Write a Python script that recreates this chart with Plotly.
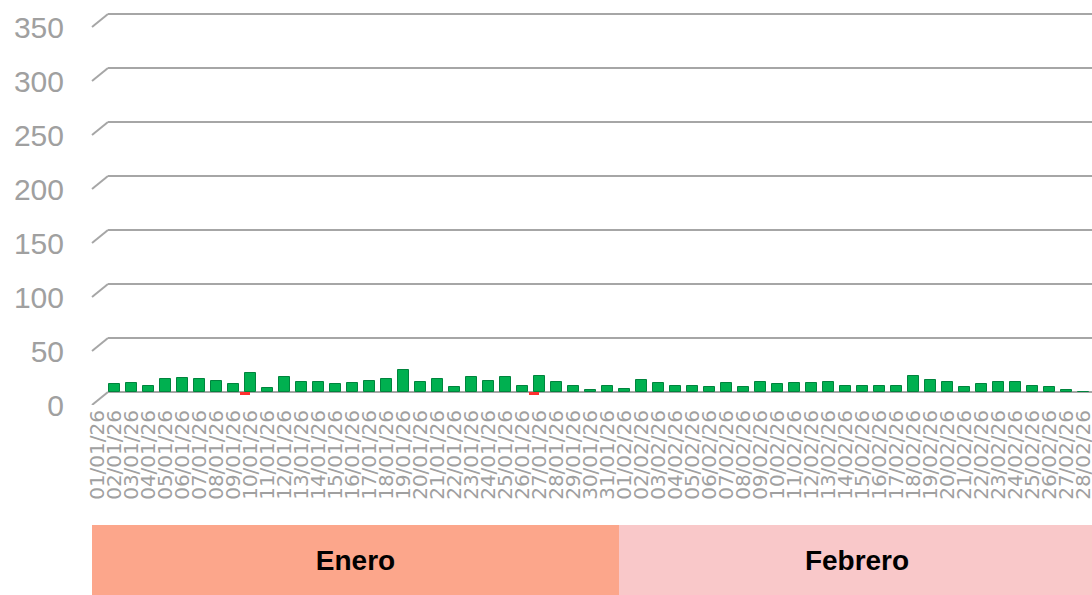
import plotly.graph_objects as go

# ---------------- data ----------------
months = ["Enero", "Febrero"]
month_numbers = [1, 2]
month_days = [31, 28]
month_colors = ["#FCA68B", "#F9C8C9"]

dates = [f"{d:02d}/{m:02d}/26" for m, n in zip(month_numbers, month_days) for d in range(1, n + 1)]

pos_values = [7, 8, 6, 12, 13, 12, 10, 7, 18, 4,
              14, 9, 9, 7, 8, 10, 12, 20, 9, 12,
              5, 14, 10, 14, 6, 15, 9, 6, 2, 6, 3,
              11, 8, 6, 6, 5, 8, 5, 9, 7, 8,
              8, 9, 6, 6, 6, 6, 15, 11, 9, 5,
              7, 9, 9, 6, 5, 2, 0, 0]

neg_values = [0, 0, 0, 0, 0, 0, 0, 0, -3, 0,
              0, 0, 0, 0, 0, 0, 0, 0, 0, 0,
              0, 0, 0, 0, 0, -3, 0, 0, 0, 0, 0,
              0, 0, 0, 0, 0, 0, 0, 0, 0, 0,
              0, 0, 0, 0, 0, 0, 0, 0, 0, 0,
              0, 0, 0, 0, 0, 0, 0, 0]

y_ticks = [0, 50, 100, 150, 200, 250, 300, 350]

# ---------------- figure ----------------
grid_color = "#a6a6a6"
label_color = "#a0a0a0"
x_range = [-0.4706, 58.353]

fig = go.Figure()

fig.add_trace(go.Bar(
    x=dates, y=pos_values, width=0.65, offset=0.555,
    marker=dict(color="#00B050", line=dict(color="#00843D", width=1)),
    xaxis="x", yaxis="y", hoverinfo="x+y",
))
fig.add_trace(go.Bar(
    x=dates, y=neg_values, width=0.6, offset=0.23,
    marker=dict(color="#FF3030", line=dict(width=0)),
    xaxis="x", yaxis="y", hoverinfo="x+y",
))
fig.add_trace(go.Bar(
    orientation="h", x=month_days, base=[-0.5, 30.5], y=[0, 0], width=1,
    marker=dict(color=month_colors, line=dict(width=0)),
    text=months, texttemplate="<b>%{text}</b>",
    textposition="inside", insidetextanchor="middle",
    textfont=dict(family="Liberation Sans, Arial", size=28, color="black"),
    xaxis="x2", yaxis="y2", hoverinfo="skip",
))

shapes = []
for v in y_ticks:
    shapes.append(dict(type="line", xref="paper", yref="y",
                       xsizemode="pixel", xanchor=0, x0=0, x1=16,
                       ysizemode="pixel", yanchor=v, y0=-13, y1=0,
                       line=dict(color=grid_color, width=2), layer="below"))
    shapes.append(dict(type="line", xref="paper", yref="y",
                       x0=0.016, x1=1, y0=v, y1=v,
                       line=dict(color=grid_color, width=2), layer="below"))

fig.update_layout(
    width=1092, height=595,
    margin=dict(l=92, r=0, t=5, b=0),
    plot_bgcolor="white", paper_bgcolor="white",
    showlegend=False, barmode="overlay", bargap=0,
    shapes=shapes,
    xaxis=dict(type="category", range=x_range, domain=[0, 1], anchor="y",
               tickmode="array", tickvals=dates, ticktext=dates,
               tickangle=-90, ticks="", ticklabelstandoff=0, ticklabelshift=-2,
               tickfont=dict(family="DejaVu Sans", size=20, color=label_color),
               showgrid=False, showline=False, zeroline=False, automargin=False),
    yaxis=dict(domain=[0.322, 1], range=[-12.04, 358.33], anchor="x",
               tickmode="array", tickvals=y_ticks, ticks="",
               ticklabelshift=13, ticklabelstandoff=27,
               tickfont=dict(family="Liberation Sans, Arial", size=30, color=label_color),
               showgrid=False, showline=False, zeroline=False, automargin=False),
    xaxis2=dict(range=x_range, domain=[0, 1], anchor="y2", visible=False),
    yaxis2=dict(range=[-0.5, 0.5], domain=[0, 0.1186], anchor="x2", visible=False),
)

fig.write_html(
    "out.html",
    config={"displayModeBar": False},
    post_script="document.body.style.margin='0';document.body.style.overflow='hidden';",
)
